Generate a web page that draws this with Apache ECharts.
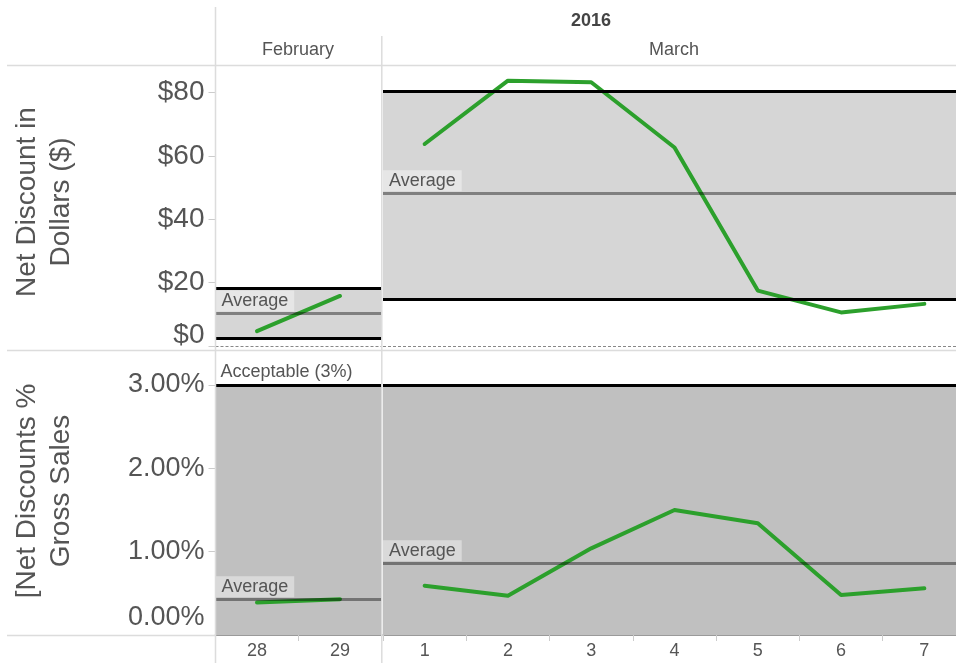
<!DOCTYPE html>
<html>
<head>
<meta charset="utf-8">
<script src="https://cdn.jsdelivr.net/npm/echarts@6/dist/echarts.min.js"></script>
<style>
html, body {margin: 0; padding: 0; background: #fff;}
#main {width: 956px; height: 663px;}
</style>
</head>
<body>
<div id="main"></div>
<script>
// data
let febDays = ['28', '29'];
let marDays = ['1', '2', '3', '4', '5', '6', '7'];
let febDollars = [4.7, 15.8];
let marDollars = [63.8, 83.8, 83.3, 62.7, 17.5, 10.6, 13.3];
let febPct = [0.39, 0.43];
let marPct = [0.59, 0.47, 1.04, 1.50, 1.34, 0.48, 0.56];

// reference lines / bands, [february, march]
let dollarAvg = [10.3, 48.2];
let dollarBandLow = [2.6, 14.9];
let dollarBandHigh = [18.1, 80.6];
let pctAvg = [0.43, 0.86];
let acceptable = 3;

let dollarTicks = [0, 20, 40, 60, 80];
let pctTicks = [0, 1, 2, 3];

const FONT = '"Liberation Sans", Arial, sans-serif';
const TXT = '#555555';
const GREEN = '#2ca02c';
const RULE = '#dcdcdc';

// pane geometry (march pane runs a little past the right edge)
let paneLeft = [215.5, 383];
let paneWidth = [166, 583];
let topPane = {top: 65, height: 286};
let bottomPane = {top: 351, height: 284};

function avgLine(v){
    return {
        yAxis: v,
        lineStyle: {color: 'rgba(0,0,0,0.4)', width: 3, type: 'solid'},
        label: {
            show: true,
            position: 'insideStartTop',
            formatter: 'Average',
            distance: [0, 2],
            color: TXT,
            fontFamily: FONT,
            fontSize: 18,
            lineHeight: 18,
            backgroundColor: 'rgba(255,255,255,0.4)',
            padding: [2, 6, 1, 6]
        }
    };
}

function blackLine(v){
    return {
        yAxis: v,
        lineStyle: {color: '#000', width: 3, type: 'solid'},
        label: {show: false}
    };
}

function gridFor(i, row){
    return {
        left: paneLeft[i], width: paneWidth[i], top: row.top, height: row.height,
        containLabel: false, outerBoundsMode: 'none'
    };
}

let grids = [];
let xAxes = [];
let yAxes = [];
let series = [];

let panes = [
    {days: febDays, dollars: febDollars, pct: febPct},
    {days: marDays, dollars: marDollars, pct: marPct}
];

panes.forEach(function(p, i){
    // top row: net discount $
    let gi = grids.length;
    grids.push(gridFor(i, topPane));
    xAxes.push({
        type: 'category', gridIndex: gi, data: p.days, boundaryGap: true,
        axisLine: {show: false}, axisTick: {show: false}, axisLabel: {show: false}
    });
    yAxes.push({
        type: 'value', gridIndex: gi, min: -1.58, max: 88.74,
        splitLine: {show: false},
        axisLine: {show: false},
        axisTick: {show: i === 0, customValues: dollarTicks, length: 7, lineStyle: {color: '#cccccc'}},
        axisLabel: {
            show: i === 0,
            customValues: dollarTicks,
            margin: 11,
            color: TXT,
            fontFamily: FONT,
            fontSize: 28,
            formatter: function(v){
                return v === 0 ? '{z|$0}' : '$' + v;
            },
            rich: {z: {fontSize: 28, fontFamily: FONT, color: TXT, padding: [0, 0, 22, 0]}}
        }
    });
    series.push({
        type: 'line', xAxisIndex: gi, yAxisIndex: gi, data: [], z: 1, silent: true,
        markArea: {
            silent: true,
            itemStyle: {color: '#d6d6d6'},
            data: [[{yAxis: dollarBandLow[i]}, {yAxis: dollarBandHigh[i]}]]
        }
    });
    series.push({
        type: 'line', xAxisIndex: gi, yAxisIndex: gi, data: p.dollars, z: 3,
        symbol: 'none', clip: false,
        lineStyle: {color: GREEN, width: 4, cap: 'round', join: 'round'}
    });
    series.push({
        type: 'line', xAxisIndex: gi, yAxisIndex: gi, data: [], z: 4, silent: true,
        markLine: {
            silent: true, symbol: 'none', animation: false,
            data: [
                {yAxis: 0, lineStyle: {color: '#888', width: 1, type: [3, 2]}, label: {show: false}},
                blackLine(dollarBandLow[i]),
                blackLine(dollarBandHigh[i]),
                avgLine(dollarAvg[i])
            ]
        }
    });

    // bottom row: net discounts % of gross sales
    gi = grids.length;
    grids.push(gridFor(i, bottomPane));
    xAxes.push({
        type: 'category', gridIndex: gi, data: p.days, boundaryGap: true,
        axisLine: {show: true, lineStyle: {color: '#7a7a7a', width: 1.5}},
        axisTick: {show: true, interval: 0, length: 6, lineStyle: {color: '#cccccc'}},
        axisLabel: {color: TXT, fontFamily: FONT, fontSize: 18, margin: 7, interval: 0}
    });
    yAxes.push({
        type: 'value', gridIndex: gi, min: 0, max: 3.408,
        splitLine: {show: false},
        axisLine: {show: false},
        axisTick: {show: i === 0, customValues: pctTicks, length: 7, lineStyle: {color: '#cccccc'}},
        axisLabel: {
            show: i === 0,
            customValues: pctTicks,
            margin: 11,
            color: TXT,
            fontFamily: FONT,
            fontSize: 27,
            formatter: function(v){
                let s = v.toFixed(2) + '%';
                return v === 0 ? '{z|' + s + '}' : s;
            },
            rich: {z: {fontSize: 27, fontFamily: FONT, color: TXT, padding: [0, 0, 34, 0]}}
        }
    });
    series.push({
        type: 'line', xAxisIndex: gi, yAxisIndex: gi, data: [], z: 1, silent: true,
        markArea: {
            silent: true,
            itemStyle: {color: '#c0c0c0'},
            data: [[{yAxis: 0}, {yAxis: acceptable}]]
        }
    });
    series.push({
        type: 'line', xAxisIndex: gi, yAxisIndex: gi, data: p.pct, z: 3,
        symbol: 'none', clip: false,
        lineStyle: {color: GREEN, width: 4, cap: 'round', join: 'round'}
    });
    let accLine = blackLine(acceptable);
    if(i === 0){
        accLine.label = {
            show: true,
            position: 'insideStartTop',
            formatter: 'Acceptable (3%)',
            distance: [5, 4],
            color: TXT,
            fontFamily: FONT,
            fontSize: 18
        };
    }
    series.push({
        type: 'line', xAxisIndex: gi, yAxisIndex: gi, data: [], z: 4, silent: true,
        markLine: {
            silent: true, symbol: 'none', animation: false,
            data: [accLine, avgLine(pctAvg[i])]
        }
    });
});

function rule(x1, y1, x2, y2){
    return {
        type: 'line', z: 100, silent: true,
        shape: {x1: x1, y1: y1, x2: x2, y2: y2},
        style: {stroke: RULE, lineWidth: 1.5}
    };
}

function label(text, x, y, size, weight, color){
    return {
        type: 'text', z: 100, silent: true, x: x, y: y,
        style: {
            text: text, fill: color || TXT, fontFamily: FONT, fontSize: size,
            fontWeight: weight || 'normal', align: 'center', verticalAlign: 'middle'
        }
    };
}

function axisTitle(text, x, y){
    return {
        type: 'text', z: 100, silent: true, x: x, y: y, rotation: Math.PI / 2,
        style: {
            text: text, fill: TXT, fontFamily: FONT, fontSize: 28, lineHeight: 34,
            align: 'center', verticalAlign: 'middle'
        }
    };
}

let myChart = echarts.init(document.getElementById('main'), null, {renderer: 'canvas'});

let option = {
    animation: false,
    backgroundColor: '#ffffff',
    textStyle: {fontFamily: FONT},
    grid: grids,
    xAxis: xAxes,
    yAxis: yAxes,
    series: series,
    graphic: [
        rule(215.5, 7, 215.5, 663),
        rule(381.8, 36, 381.8, 663),
        rule(7, 65.5, 956, 65.5),
        rule(7, 350.5, 956, 350.5),
        rule(7, 635.5, 215.5, 635.5),
        label('2016', 591, 21, 18, 'bold', '#444444'),
        label('February', 298, 50, 18),
        label('March', 674, 50, 18),
        axisTitle('Net Discount in\nDollars ($)', 44, 202),
        axisTitle('[Net Discounts %\nGross Sales', 44, 491)
    ]
};

myChart.setOption(option);
</script>
</body>
</html>
